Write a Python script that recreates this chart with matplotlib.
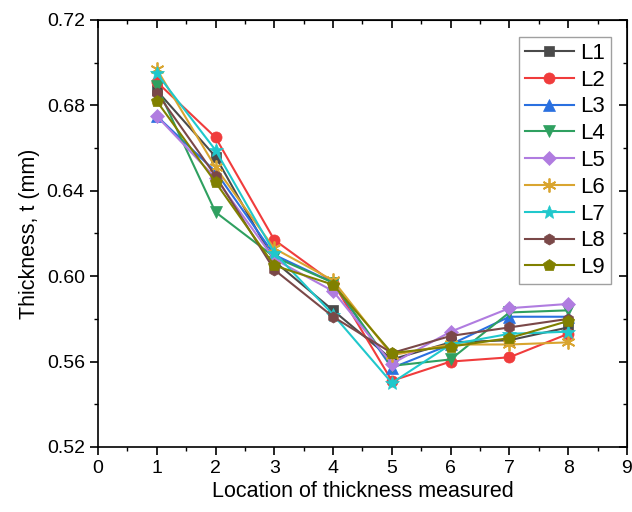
import matplotlib
matplotlib.use('Agg')
import matplotlib.pyplot as plt
from matplotlib.ticker import MultipleLocator

plt.rcParams['font.family'] = ['Liberation Sans', 'DejaVu Sans']

# location index along the part
locations = [1, 2, 3, 4, 5, 6, 7, 8]

# measured thickness (mm) for each line L1..L9
L1 = [0.687, 0.656, 0.607, 0.584, 0.561, 0.569, 0.570, 0.576]
L2 = [0.691, 0.665, 0.617, 0.597, 0.551, 0.560, 0.562, 0.573]
L3 = [0.675, 0.649, 0.610, 0.597, 0.557, 0.568, 0.581, 0.581]
L4 = [0.689, 0.630, 0.609, 0.597, 0.558, 0.561, 0.583, 0.584]
L5 = [0.675, 0.646, 0.608, 0.593, 0.559, 0.574, 0.585, 0.587]
L6 = [0.697, 0.651, 0.613, 0.598, 0.563, 0.568, 0.568, 0.569]
L7 = [0.695, 0.659, 0.611, 0.582, 0.550, 0.568, 0.573, 0.574]
L8 = [0.686, 0.647, 0.603, 0.581, 0.564, 0.572, 0.576, 0.580]
L9 = [0.682, 0.644, 0.605, 0.596, 0.564, 0.567, 0.571, 0.579]

labels = ['L1', 'L2', 'L3', 'L4', 'L5', 'L6', 'L7', 'L8', 'L9']
series = [L1, L2, L3, L4, L5, L6, L7, L8, L9]
colors = ['#4a4a4a', '#f03c3c', '#2a70e0', '#2fa060', '#b07ce0',
          '#d9a530', '#20c8cc', '#7a4848', '#808000']
markers = ['s', 'o', '^', 'v', 'D', (6, 2, 0), '*', 'h', 'p']
sizes = [7, 8, 8, 8, 7, 10, 10, 8, 9]

fig = plt.figure(figsize=(6.32, 5.12), dpi=100)
ax = fig.add_axes([0.155, 0.127, 0.837, 0.834])

for vals, lab, c, m, s in zip(series, labels, colors, markers, sizes):
    ax.plot(locations, vals, color=c, marker=m, markersize=s, linewidth=1.5,
            label=lab, markeredgewidth=1.3 if m == (6, 2, 0) else 0.5,
            markeredgecolor=c)

ax.set_xlim(0, 9)
ax.set_ylim(0.52, 0.72)
ax.xaxis.set_major_locator(MultipleLocator(1))
ax.xaxis.set_minor_locator(MultipleLocator(0.5))
ax.yaxis.set_major_locator(MultipleLocator(0.04))
ax.yaxis.set_minor_locator(MultipleLocator(0.02))
ax.yaxis.set_major_formatter(matplotlib.ticker.FormatStrFormatter('%.2f'))

ax.tick_params(which='major', direction='out', length=6, width=1.2, labelsize=14)
ax.tick_params(which='minor', direction='out', length=3, width=1.0)
for sp in ax.spines.values():
    sp.set_linewidth(1.2)

# mirrored inward ticks on top and right, like Origin does it
top = ax.secondary_xaxis('top')
top.xaxis.set_major_locator(MultipleLocator(1))
top.xaxis.set_minor_locator(MultipleLocator(0.5))
top.tick_params(which='major', direction='in', length=6, width=1.2, labeltop=False)
top.tick_params(which='minor', direction='in', length=3, width=1.0)
right = ax.secondary_yaxis('right')
right.yaxis.set_major_locator(MultipleLocator(0.04))
right.yaxis.set_minor_locator(MultipleLocator(0.02))
right.tick_params(which='major', direction='in', length=6, width=1.2, labelright=False)
right.tick_params(which='minor', direction='in', length=3, width=1.0)

ax.set_xlabel('Location of thickness measured', fontsize=15.5, labelpad=3)
ax.set_ylabel('Thickness, t (mm)', fontsize=15.5, labelpad=5)

leg = ax.legend(loc='upper right', bbox_to_anchor=(0.982, 0.975), fontsize=16,
                frameon=True, fancybox=False, edgecolor='#888888',
                handlelength=2.2, labelspacing=0.26, borderpad=0.25,
                handletextpad=0.3, borderaxespad=0.3)
leg.get_frame().set_linewidth(1.0)

fig.savefig('out.png', dpi=100)
